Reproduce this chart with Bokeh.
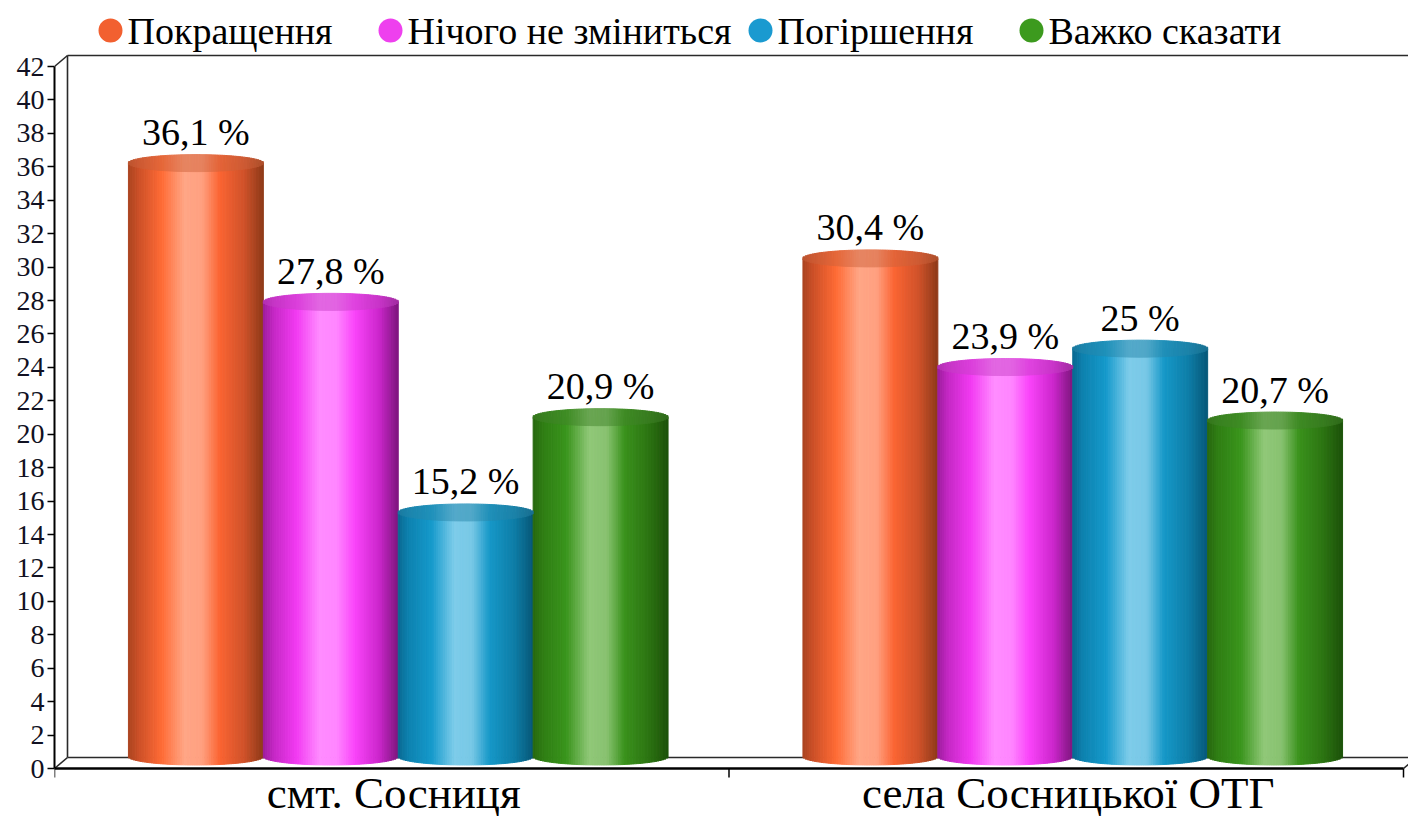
import math
from bokeh.plotting import figure
from bokeh.models import Range1d, FixedTicker, ColumnDataSource
from bokeh.core.properties import value
from bokeh.embed import file_html
from bokeh.resources import INLINE

# ---------------- data ----------------
categories = ["смт. Сосниця", "села Сосницької ОТГ"]
series = ["Покращення", "Нічого не зміниться", "Погіршення", "Важко сказати"]
values_smt = [36.1, 27.8, 15.2, 20.9]
values_sela = [30.4, 23.9, 25.0, 20.7]
y_ticks = list(range(0, 43, 2))

# ---------------- styling ----------------
FONT = "Liberation Serif"
legend_colors = ["#F26030", "#EE40EE", "#1A9AD0", "#3C9A1E"]
profiles = [
    [(0.0, "#A94420"), (0.08, "#CC5028"), (0.25, "#FF6B35"), (0.42, "#FFA686"),
     (0.55, "#FFA080"), (0.68, "#FB6432"), (0.86, "#D0522A"), (1.0, "#8E3A18")],
    [(0.0, "#9C1C9C"), (0.08, "#C528C5"), (0.25, "#F23AF2"), (0.42, "#FF8CFF"),
     (0.55, "#FF86FF"), (0.68, "#FA44FA"), (0.86, "#CC26CC"), (1.0, "#7E167E")],
    [(0.0, "#0A6890"), (0.08, "#0E82B0"), (0.25, "#159ACB"), (0.42, "#7ECCEA"),
     (0.55, "#78C8E6"), (0.68, "#1698C8"), (0.86, "#0E7EA8"), (1.0, "#075878")],
    [(0.0, "#28680F"), (0.08, "#2F7E14"), (0.25, "#3A951C"), (0.42, "#90C878"),
     (0.55, "#88C270"), (0.68, "#3A921C"), (0.86, "#2C7412"), (1.0, "#1C520A")],
]


def hex2rgb(h):
    h = h.lstrip("#")
    return [int(h[i:i + 2], 16) for i in (0, 2, 4)]


def rgb2hex(c):
    return "#%02x%02x%02x" % tuple(max(0, min(255, int(round(v)))) for v in c)


def grad(stops, t):
    for (t0, c0), (t1, c1) in zip(stops[:-1], stops[1:]):
        if t0 <= t <= t1:
            f = (t - t0) / (t1 - t0) if t1 > t0 else 0
            a, b = hex2rgb(c0), hex2rgb(c1)
            return [a[k] + (b[k] - a[k]) * f for k in range(3)]
    return hex2rgb(stops[-1][1])


# ---------------- geometry ----------------
W, H = 1408, 816
BL = 54                   # frame left (y axis line)
Y0, Y42 = 768, 66         # screen rows of 0 and 42
YS = (Y0 - Y42) / 42.0    # px per percent
XS = (1403 - BL) / 2.0    # px per category
x_end = (W - BL) / XS
y_start = -(H - Y0) / YS
y_end = Y0 / YS


def sx(px):
    return (px - BL) / XS


def sy(py):
    return (Y0 - py) / YS


p = figure(width=W, height=H, output_backend="svg", toolbar_location=None,
           x_range=Range1d(0, x_end), y_range=Range1d(y_start, y_end),
           min_border_left=BL, min_border_right=0, min_border_top=0, min_border_bottom=0)
p.outline_line_color = None
p.xgrid.visible = False
p.ygrid.visible = False
p.xaxis.visible = False
p.background_fill_color = "white"

ymax = y_ticks[-1]
nc = len(categories)

# ---------------- 3D frame (back wall / floor) ----------------
dxw, dyw = 13 / XS, 11 / YS
wall = ColumnDataSource(dict(
    x0=[dxw, dxw, dxw, 0, 0, nc],
    y0=[dyw, ymax + dyw, dyw, 0, ymax, 0],
    x1=[dxw, x_end + dxw, x_end + dxw, dxw, dxw, nc + dxw],
    y1=[ymax + dyw, ymax + dyw, dyw, dyw, ymax + dyw, dyw],
))
p.segment(x0="x0", y0="y0", x1="x1", y1="y1", source=wall, line_color="#2a2a2a", line_width=1.6)

# ---------------- cylinders ----------------
N = 60
EH = 8.5 / YS        # half height of the ellipses
base_c = 12 / YS     # bottom ellipse centre
shift_x = 6.5 / XS
bar_w = 0.2
pad = (1 - bar_w * len(series)) / 2

body = dict(left=[], right=[], bottom=[], top=[], color=[])
cap = dict(left=[], right=[], bottom=[], top=[], color=[])
lab = dict(x=[], y=[], text=[])
all_vals = [values_smt, values_sela]
for c, vals in enumerate(all_vals):
    for i, v in enumerate(vals):
        xl = c + pad + bar_w * i + shift_x
        topc = v + 2 / YS
        ref = grad(profiles[i], 0.3)
        for j in range(N):
            t = (j + 0.5) / N
            u = 2 * t - 1
            e = EH * math.sqrt(max(0.0, 1 - u * u))
            x0 = xl + bar_w * j / N
            x1 = xl + bar_w * (j + 1) / N
            col = grad(profiles[i], t)
            body["left"].append(x0); body["right"].append(x1)
            body["bottom"].append(base_c - e); body["top"].append(topc)
            body["color"].append(rgb2hex(col))
            tc = [0.9 * (0.55 * col[k] + 0.45 * ref[k]) for k in range(3)]
            cap["left"].append(x0); cap["right"].append(x1)
            cap["bottom"].append(topc - e); cap["top"].append(topc + e)
            cap["color"].append(rgb2hex(tc))
        lab["x"].append(xl + bar_w / 2)
        lab["y"].append(v)
        lab["text"].append(("%g" % v).replace(".", ",") + " %")

p.quad(left="left", right="right", bottom="bottom", top="top", source=ColumnDataSource(body),
       fill_color="color", line_color="color", line_width=1)
p.quad(left="left", right="right", bottom="bottom", top="top", source=ColumnDataSource(cap),
       fill_color="color", line_color="color", line_width=1)

p.text(x="x", y="y", text="text", source=ColumnDataSource(lab), y_offset=-33,
       text_align="center", text_baseline="middle", text_color="black",
       text_font=value(FONT), text_font_size="38px")

# ---------------- y axis ----------------
yax = p.yaxis[0]
yax.ticker = FixedTicker(ticks=y_ticks)
yax.bounds = (0, ymax)
yax.axis_line_width = 2
yax.axis_line_color = "black"
yax.major_tick_out = 7
yax.major_tick_in = 0
yax.major_tick_line_width = 1.5
yax.minor_tick_line_color = None
yax.major_label_standoff = 3
yax.major_label_text_font = FONT
yax.major_label_text_font_size = "28px"
yax.major_label_text_color = "#111122"

# ---------------- category axis (floor line, ticks, labels) ----------------
tick_len = 9 / YS
p.segment(x0=[0], y0=[0], x1=[nc], y1=[0], line_color="black", line_width=2.5)
p.segment(x0=list(range(nc + 1)), y0=[0] * (nc + 1), x1=list(range(nc + 1)),
          y1=[-tick_len] * (nc + 1), line_color="black", line_width=1.5)
cat_src = ColumnDataSource(dict(x=[c + 0.5 + 2 / XS for c in range(nc)],
                                y=[sy(792)] * nc, text=categories))
p.text(x="x", y="y", text="text", source=cat_src, text_align="center", text_baseline="middle",
       text_color="black", text_font=value(FONT), text_font_size="45px")

# ---------------- legend (top row) ----------------
legend_cx = [110, 390, 760, 1031]
legend_cy = 30
p.scatter(x=[sx(cx) for cx in legend_cx], y=[sy(legend_cy)] * len(series), marker="circle",
          size=24, fill_color=legend_colors, line_color=None)
p.text(x=[sx(cx + 17) for cx in legend_cx], y=[sy(legend_cy)] * len(series), text=series,
       text_align="left", text_baseline="middle", text_color="black",
       text_font=value(FONT), text_font_size="38px")

open("out.html", "w").write(file_html(p, INLINE))
